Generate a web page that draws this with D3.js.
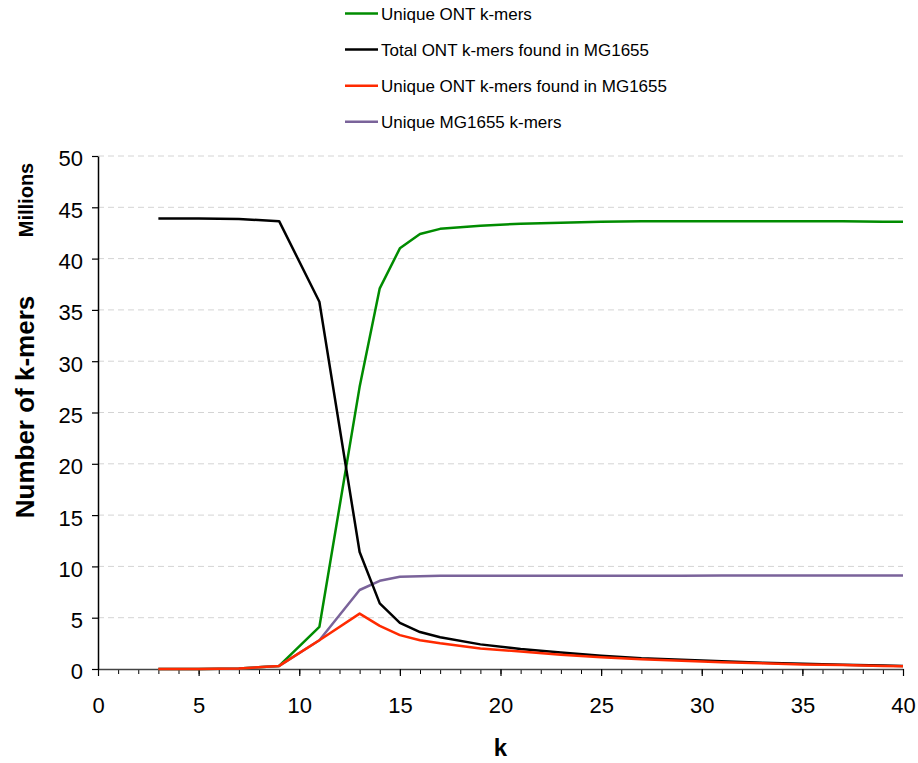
<!DOCTYPE html>
<html>
<head>
<meta charset="utf-8">
<script src="https://cdn.jsdelivr.net/npm/d3@7"></script>
<style>
  body { margin: 0; background: #fff; }
  text { font-family: "Liberation Sans", Arial, sans-serif; }
</style>
</head>
<body>
<div id="chart"></div>
<script>
// k values (x axis)
var kValues = [3, 5, 7, 9, 11, 13, 14, 15, 16, 17, 19, 21, 23, 25, 27, 29, 31, 33, 35, 37, 39, 40];

// series values, millions
var uniqueOnt = [0, 0, 0.05, 0.3, 4.1, 27.5, 37.1, 41.0, 42.4, 42.9, 43.2, 43.4, 43.5, 43.6, 43.65, 43.65, 43.65, 43.65, 43.65, 43.65, 43.6, 43.6];
var totalFound = [43.9, 43.9, 43.85, 43.65, 35.8, 11.4, 6.4, 4.5, 3.6, 3.1, 2.4, 1.95, 1.6, 1.3, 1.05, 0.9, 0.75, 0.6, 0.5, 0.42, 0.33, 0.3];
var uniqueFound = [0, 0, 0.05, 0.3, 2.8, 5.4, 4.2, 3.3, 2.8, 2.5, 2.0, 1.7, 1.4, 1.15, 0.95, 0.8, 0.65, 0.55, 0.45, 0.38, 0.3, 0.27];
var uniqueMG = [0, 0, 0.05, 0.3, 2.8, 7.7, 8.6, 9.0, 9.05, 9.08, 9.1, 9.1, 9.1, 9.1, 9.1, 9.1, 9.12, 9.12, 9.12, 9.12, 9.12, 9.12];

var seriesNames = ["Unique ONT k-mers", "Total ONT k-mers found in MG1655", "Unique ONT k-mers found in MG1655", "Unique MG1655 k-mers"];
var seriesColors = ["#008c00", "#000000", "#ff2a00", "#7a639a"];
var seriesValues = [uniqueOnt, totalFound, uniqueFound, uniqueMG];

var xTicks = [0, 5, 10, 15, 20, 25, 30, 35, 40];
var yTicks = [0, 5, 10, 15, 20, 25, 30, 35, 40, 45, 50];

// set the dimensions and margins of the graph
var margin = { top: 156, right: 15, bottom: 94, left: 98 },
    width = 918 - margin.left - margin.right,
    height = 763 - margin.top - margin.bottom;

var svg = d3.select("#chart")
    .append("svg")
    .attr("width", 918)
    .attr("height", 763);

var g = svg.append("g")
    .attr("transform", "translate(" + margin.left + "," + margin.top + ")");

var x = d3.scaleLinear().domain([0, 40]).range([0, width]);
var y = d3.scaleLinear().domain([0, 50]).range([height, 0]);

// Y gridlines
g.append("g")
    .selectAll("line")
    .data(yTicks.filter(function (d) { return d > 0; }))
    .enter()
    .append("line")
    .attr("x1", 0)
    .attr("x2", width)
    .attr("y1", function (d) { return y(d); })
    .attr("y2", function (d) { return y(d); })
    .attr("stroke", "#d4d4d4")
    .attr("stroke-width", 1)
    .attr("stroke-dasharray", "6,4");

// minor x ticks
g.append("g")
    .attr("transform", "translate(0," + height + ")")
    .call(d3.axisBottom(x).tickValues(d3.range(0, 41)).tickSize(5).tickFormat(""))
    .call(function (s) {
        s.select(".domain").remove();
        s.selectAll("line").attr("stroke", "#000").attr("stroke-width", 1);
    });

// X axis
g.append("g")
    .attr("transform", "translate(0," + height + ")")
    .call(d3.axisBottom(x).tickValues(xTicks).tickSize(7).tickSizeOuter(0).tickPadding(21))
    .call(function (s) {
        s.select(".domain").attr("stroke", "#444").attr("stroke-width", 1.5);
        s.selectAll("line").attr("stroke", "#000").attr("stroke-width", 1.2);
        s.selectAll("text").attr("font-size", "22px").attr("fill", "#000")
            .style("font-family", "'Liberation Sans', Arial, sans-serif");
    });

// Y axis
g.append("g")
    .call(d3.axisLeft(y).tickValues(yTicks).tickSize(6).tickSizeOuter(0).tickPadding(9))
    .call(function (s) {
        s.select(".domain").attr("stroke", "#000").attr("stroke-width", 1.5);
        s.selectAll("line").attr("stroke", "#000").attr("stroke-width", 1.2);
        s.selectAll("text").attr("font-size", "22px").attr("fill", "#000").attr("dy", "0.45em")
            .style("font-family", "'Liberation Sans', Arial, sans-serif");
    });

// Draw the lines
var line = d3.line()
    .x(function (d) { return x(d[0]); })
    .y(function (d) { return y(d[1]); });

// draw order: green, purple, black, red
[0, 3, 1, 2].forEach(function (i) {
    g.append("path")
        .datum(kValues.map(function (k, j) { return [k, seriesValues[i][j]]; }))
        .attr("fill", "none")
        .attr("stroke", seriesColors[i])
        .attr("stroke-width", 2.5)
        .attr("stroke-linejoin", "round")
        .attr("d", line);
});

// axis titles
svg.append("text")
    .attr("text-anchor", "middle")
    .attr("x", margin.left + x(20))
    .attr("y", 756)
    .style("font-size", "24px")
    .style("font-weight", "bold")
    .text("k");

svg.append("text")
    .attr("text-anchor", "middle")
    .attr("transform", "translate(34,407) rotate(-90)")
    .style("font-size", "26px")
    .style("font-weight", "bold")
    .text("Number of k-mers");

svg.append("text")
    .attr("text-anchor", "middle")
    .attr("transform", "translate(33,200) rotate(-90)")
    .style("font-size", "20px")
    .style("font-weight", "bold")
    .text("Millions");

// legend
var legend = svg.selectAll("legend")
    .data(seriesNames)
    .enter()
    .append("g")
    .attr("transform", function (d, i) { return "translate(345," + (13.5 + i * 36.1) + ")"; });

legend.append("line")
    .attr("x1", 0)
    .attr("x2", 33)
    .attr("stroke", function (d, i) { return seriesColors[i]; })
    .attr("stroke-width", 2.5);

legend.append("text")
    .attr("x", 36)
    .attr("dy", "0.36em")
    .style("font-size", "17px")
    .text(function (d) { return d; });
</script>
</body>
</html>
